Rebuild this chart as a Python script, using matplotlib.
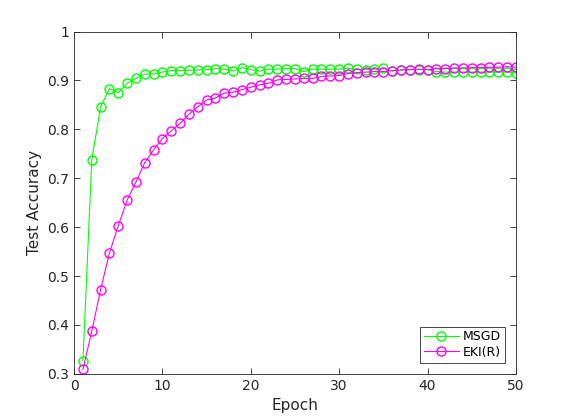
import matplotlib
matplotlib.use("Agg")
import matplotlib.pyplot as plt

epochs = list(range(1, 51))

msgd = [0.326, 0.737, 0.846, 0.883, 0.875, 0.894, 0.904, 0.913, 0.913, 0.917,
        0.920, 0.920, 0.921, 0.921, 0.922, 0.924, 0.923, 0.919, 0.926, 0.922,
        0.919, 0.923, 0.923, 0.924, 0.924, 0.918, 0.923, 0.923, 0.923, 0.923,
        0.925, 0.923, 0.922, 0.923, 0.925, 0.919, 0.922, 0.922, 0.922, 0.922,
        0.918, 0.917, 0.917, 0.917, 0.917, 0.917, 0.917, 0.917, 0.917, 0.915]

eki = [0.309, 0.387, 0.472, 0.547, 0.603, 0.655, 0.692, 0.732, 0.758, 0.781,
       0.797, 0.812, 0.831, 0.846, 0.860, 0.864, 0.874, 0.876, 0.881, 0.886,
       0.891, 0.894, 0.901, 0.902, 0.903, 0.904, 0.904, 0.908, 0.909, 0.910,
       0.914, 0.916, 0.917, 0.918, 0.918, 0.920, 0.921, 0.922, 0.923, 0.922,
       0.924, 0.924, 0.925, 0.925, 0.926, 0.926, 0.927, 0.927, 0.928, 0.927]

fig = plt.figure(figsize=(5.7, 4.2), dpi=100)
ax = fig.add_axes([0.13, 0.11, 0.775, 0.815])

ax.plot(epochs, msgd, color=(0, 1, 0), marker="o", markersize=6.5,
        markerfacecolor="none", linewidth=0.8, label="MSGD")
ax.plot(epochs, eki, color=(1, 0, 1), marker="o", markersize=6.5,
        markerfacecolor="none", linewidth=0.8, label="EKI(R)")

ax.set_xlim(0, 50)
ax.set_ylim(0.3, 1)
ax.set_xticks([0, 10, 20, 30, 40, 50])
ax.set_yticks([0.3, 0.4, 0.5, 0.6, 0.7, 0.8, 0.9, 1])
ax.set_yticklabels(["0.3", "0.4", "0.5", "0.6", "0.7", "0.8", "0.9", "1"])
ax.tick_params(direction="in", top=True, right=True, labelsize=10,
               colors="#262626", length=4, width=0.6)
for s in ax.spines.values():
    s.set_linewidth(0.6)
    s.set_color("#262626")

ax.set_xlabel("Epoch", fontsize=11, color="#262626")
ax.set_ylabel("Test Accuracy", fontsize=11, color="#262626")

leg = ax.legend(loc="lower right", fontsize=9, fancybox=False,
                framealpha=1, edgecolor="#262626", borderpad=0.3,
                handlelength=2.8, handletextpad=0.3, labelspacing=0.2,
                borderaxespad=0.9)
leg.get_frame().set_linewidth(0.6)

fig.savefig("out.png", dpi=100)
